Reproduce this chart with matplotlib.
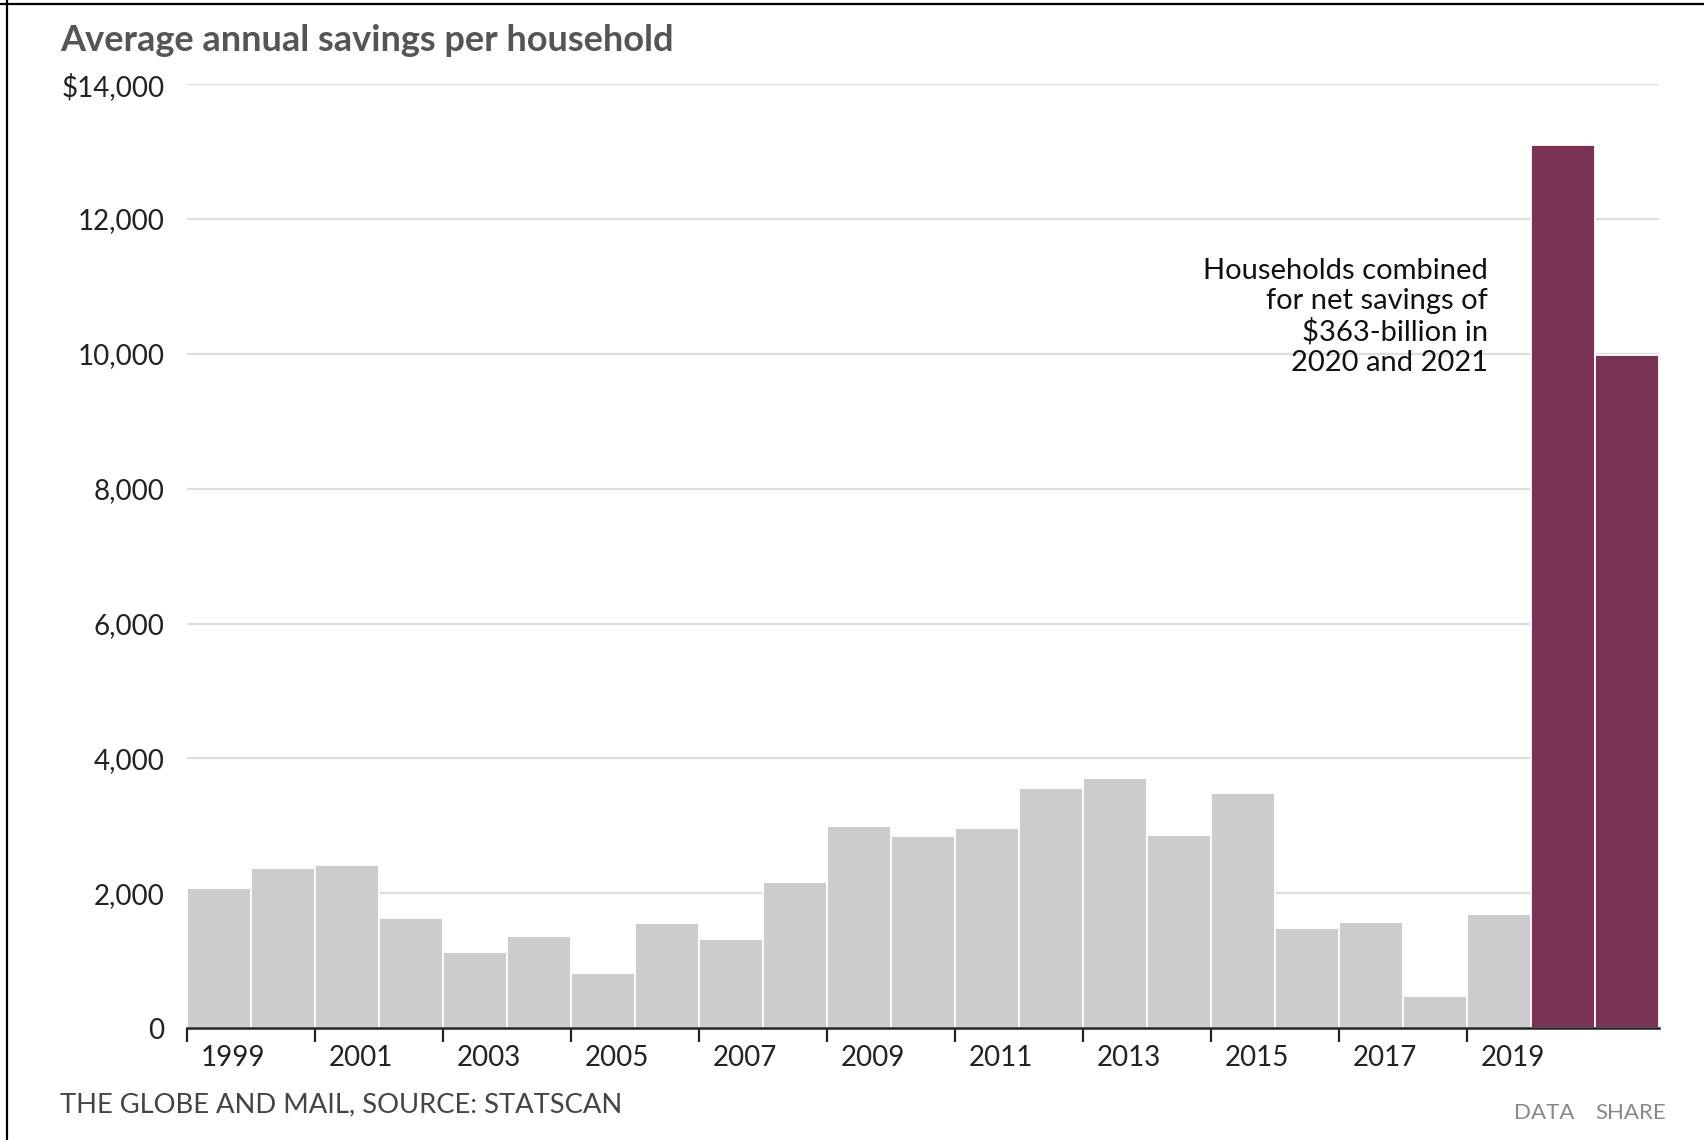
import matplotlib
matplotlib.use("Agg")
import matplotlib.pyplot as plt
import matplotlib.transforms as mtransforms
from matplotlib.lines import Line2D

plt.rcParams['font.family'] = ['Lato', 'DejaVu Sans']

# 資料
years = list(range(1999, 2022))
savings = [2080, 2370, 2420, 1630, 1130, 1360, 810, 1560, 1320, 2160,
           3000, 2850, 2970, 3560, 3710, 2860, 3480, 1480, 1570, 480,
           1690, 13100, 9980]
highlight_years = [2020, 2021]
y_ticks = [0, 2000, 4000, 6000, 8000, 10000, 12000, 14000]
y_labels = ['0', '2,000', '4,000', '6,000', '8,000', '10,000', '12,000', '$14,000']
x_tick_years = list(range(1999, 2020, 2))

grey = '#cccccc'
wine = '#7b3355'

fig = plt.figure(figsize=(17.04, 11.4), dpi=100)
ax = fig.add_axes([0.1097, 0.0982, 0.8639, 0.828])

pos = list(range(len(years)))
colors = [wine if y in highlight_years else grey for y in years]
ax.bar(pos, savings, width=1.0, color=colors, edgecolor='white', linewidth=1.3, zorder=3)

ax.set_xlim(-0.5, len(years) - 0.5)
ax.set_ylim(0, 14000)

# 格線
ax.set_yticks(y_ticks)
ax.set_yticklabels(y_labels)
ax.yaxis.grid(True, color='#dddddd', linewidth=1.6, zorder=0)
ax.set_axisbelow(True)
ax.tick_params(axis='y', length=0, pad=16, labelsize=20, labelcolor='#222222')

# x 軸刻度在每個長條左邊
ax.set_xticks([years.index(y) - 0.5 for y in x_tick_years])
ax.set_xticklabels([str(y) for y in x_tick_years])
ax.tick_params(axis='x', length=10, width=1.6, color='#222222', pad=2,
               labelsize=20, labelcolor='#222222')
offset = mtransforms.ScaledTranslation(14 / 100, 0, fig.dpi_scale_trans)
for lab in ax.get_xticklabels():
    lab.set_horizontalalignment('left')
    lab.set_transform(lab.get_transform() + offset)

for s in ['top', 'right', 'left']:
    ax.spines[s].set_visible(False)
ax.spines['bottom'].set_color('#222222')
ax.spines['bottom'].set_linewidth(1.8)
ax.spines['bottom'].set_zorder(4)

ax.text(19.83, 10550, 'Households combined\nfor net savings of\n$363-billion in\n2020 and 2021',
        ha='right', va='center', multialignment='right', fontsize=21,
        color='#111111', linespacing=1.19, zorder=5)

fig.text(0.0352, 0.9647, 'Average annual savings per household', fontsize=26,
         fontweight='bold', color='#555555', ha='left', va='center')
fig.text(0.0352, 0.0305, 'THE GLOBE AND MAIL, SOURCE: STATSCAN', fontsize=19.7,
         color='#444444', ha='left', va='center')
fig.text(0.8885, 0.0236, 'DATA', fontsize=16, color='#888888', ha='left', va='center')
fig.text(0.936, 0.0236, 'SHARE', fontsize=16, color='#888888', ha='left', va='center')

# 外框
fig.add_artist(Line2D([0, 1], [0.9965, 0.9965], transform=fig.transFigure, color='black', linewidth=1.6))
fig.add_artist(Line2D([0.0041, 0.0041], [0, 1], transform=fig.transFigure, color='black', linewidth=1.6))

fig.savefig('out.png', dpi=100)
